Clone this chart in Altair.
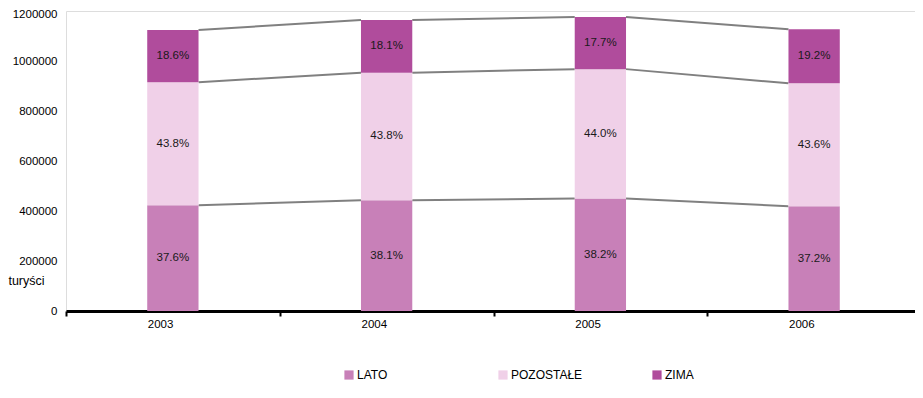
import altair as alt
import pandas as pd

years = ["2003", "2004", "2005", "2006"]
totals = [1124000, 1164000, 1177000, 1127000]
seasons = ["LATO", "POZOSTAŁE", "ZIMA"]
pct_lato = [37.6, 38.1, 38.2, 37.2]
pct_pozostale = [43.8, 43.8, 44.0, 43.6]
pct_zima = [18.6, 18.1, 17.7, 19.2]
colors = ["#c880b8", "#f0d0e8", "#b04c9c"]

FONT = "Liberation Sans"

pcts = [pct_lato, pct_pozostale, pct_zima]
rows = []
bounds = {}
for i, y in enumerate(years):
    lo = 0.0
    for k, s in enumerate(seasons):
        v = totals[i] * pcts[k][i] / 100.0
        hi = lo + v
        rows.append({"year": y, "season": s, "ord": k, "lo": lo, "hi": hi,
                     "mid": (lo + hi) / 2, "label": f"{pcts[k][i]:.1f}%"})
        bounds.setdefault(k, []).append(hi)
        lo = hi
df = pd.DataFrame(rows)

seg = []
for k in range(3):
    for i in range(len(years) - 1):
        seg.append({"from": years[i], "to": years[i + 1], "k": k,
                    "v1": bounds[k][i], "v2": bounds[k][i + 1]})
segdf = pd.DataFrame(seg)

xscale = alt.Scale(domain=years, range=[0, 855], paddingInner=0, paddingOuter=0)
yscale = alt.Scale(domain=[0, 1200000], nice=False)

bars = alt.Chart(df).mark_bar(width={"band": 0.24}).encode(
    x=alt.X("year:N", scale=xscale, sort=years,
            axis=alt.Axis(title=None, labelAngle=0, domain=True, domainColor="black",
                          domainWidth=3, ticks=True, tickColor="black", tickWidth=2,
                          tickSize=5, tickBand="extent", labelFont=FONT, labelFontSize=11.5,
                          labelColor="black", labelPadding=8)),
    y=alt.Y("lo:Q", scale=yscale,
            axis=alt.Axis(title="turyści", values=[0, 200000, 400000, 600000, 800000, 1000000, 1200000],
                          format="d", domain=False, ticks=False, grid=False, labelFont=FONT,
                          labelFontSize=11.5, labelColor="black", labelPadding=9,
                          labelOffset={"condition": {"test": "datum.value == 1200000", "value": 3}, "value": 0},
                          titleAngle=0, titleX=-40, titleY=269, titleAlign="center",
                          titleBaseline="middle", titleFont=FONT, titleFontSize=12.5,
                          titleFontWeight="normal", titleColor="black")),
    y2="hi:Q",
    color=alt.Color("season:N", scale=alt.Scale(domain=seasons, range=colors),
                    legend=alt.Legend(orient="none", legendX=277, legendY=358,
                                      direction="horizontal", title=None,
                                      symbolType="square", symbolSize=85,
                                      symbolStrokeWidth=0, labelFont=FONT,
                                      labelFontSize=12, labelColor="black",
                                      gridAlign="all", columnPadding=68, labelOffset=2)),
    order=alt.Order("ord:Q", sort="ascending"),
)

lines = alt.Chart(segdf).mark_rule(color="#808080", strokeWidth=2).encode(
    x=alt.X("from:N", scale=xscale, bandPosition=0.62),
    x2=alt.X2("to:N", bandPosition=0.38),
    y=alt.Y("v1:Q", scale=yscale),
    y2="v2:Q",
)

texts = alt.Chart(df).mark_text(font=FONT, fontSize=11.5, color="#1a1a1a").encode(
    x=alt.X("year:N", scale=xscale),
    y=alt.Y("mid:Q", scale=yscale),
    text="label:N",
)

chart = alt.layer(lines, bars, texts).properties(
    width=849, height=300,
    padding={"left": 58, "top": 3, "right": 0, "bottom": 72},
    autosize=alt.AutoSizeParams(type="none"),
).configure_view(stroke=None).configure(background="white")

chart.save("out.html", embed_options={"renderer": "svg", "actions": False})
